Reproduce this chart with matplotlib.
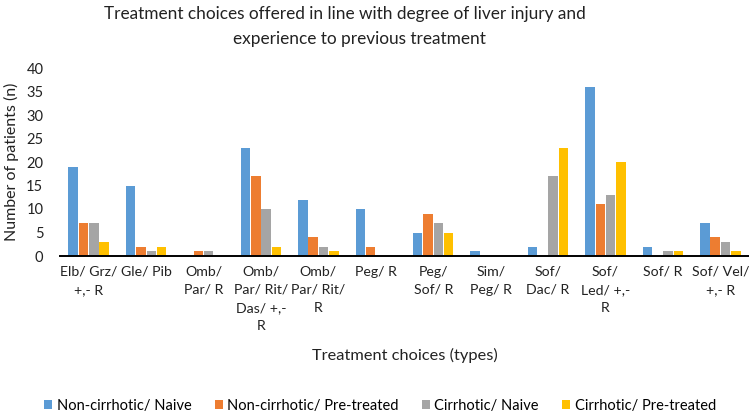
import matplotlib
matplotlib.use("Agg")
import matplotlib.pyplot as plt
import numpy as np

plt.rcParams['font.family'] = ['Lato', 'DejaVu Sans']

categories = ["Elb/ Grz/\n+,- R", "Gle/ Pib", "Omb/\nPar/ R", "Omb/\nPar/ Rit/\nDas/ +,-\nR",
              "Omb/\nPar/ Rit/\nR", "Peg/ R", "Peg/\nSof/ R", "Sim/\nPeg/ R", "Sof/\nDac/ R",
              "Sof/\nLed/ +,-\nR", "Sof/ R", "Sof/ Vel/\n+,- R"]
series_names = ["Non-cirrhotic/ Naive", "Non-cirrhotic/ Pre-treated", "Cirrhotic/ Naive", "Cirrhotic/ Pre-treated"]
non_cirr_naive = [19, 15, 0, 23, 12, 10, 5, 1, 2, 36, 2, 7]
non_cirr_pre = [7, 2, 1, 17, 4, 2, 9, 0, 0, 11, 0, 4]
cirr_naive = [7, 1, 1, 10, 2, 0, 7, 0, 17, 13, 1, 3]
cirr_pre = [3, 2, 0, 2, 1, 0, 5, 0, 23, 20, 1, 1]
colors = ["#5B9BD5", "#ED7D31", "#A5A5A5", "#FFC000"]
yticks = [0, 5, 10, 15, 20, 25, 30, 35, 40]
title_lines = ["Treatment choices offered in line with degree of liver injury and",
               "experience to previous treatment"]

fig = plt.figure(figsize=(7.49, 4.16), dpi=100)
ax = fig.add_axes([60/749, 1-256/416, 1-60/749, (256-68)/416])

x = np.arange(len(categories))
w = 0.165
step = 0.18
for i, (vals, c, n) in enumerate(zip([non_cirr_naive, non_cirr_pre, cirr_naive, cirr_pre], colors, series_names)):
    ax.bar(x + (i - 1.5) * step, vals, width=w, color=c, label=n)

ax.set_xlim(-0.5, len(categories) - 0.5)
ax.set_ylim(0, 40)
ax.set_yticks(yticks)
ax.set_xticks(x)
ax.set_xticklabels(categories, fontsize=10.2, linespacing=1.6, va='top')
ax.tick_params(axis='y', length=0, labelsize=10.5, colors='#222222', pad=12)
ax.tick_params(axis='x', length=0, colors='#222222', pad=7)
for s in ['top', 'right', 'left']:
    ax.spines[s].set_visible(False)
ax.spines['bottom'].set_linewidth(1.4)
ax.spines['bottom'].set_color('black')

ax.set_ylabel("Number of patients (n)", fontsize=11.5, color='#222222', labelpad=5)
fig.text(405/749, 1-355/416, "Treatment choices (types)", ha='center', va='center', fontsize=11.8, color='#222222')
fig.text(345/749, 1-14/416, title_lines[0], ha='center', va='center', fontsize=12.4, color='#222222')
fig.text(359/749, 1-39/416, title_lines[1], ha='center', va='center', fontsize=12.4, color='#222222')

fig.legend(loc='center', bbox_to_anchor=(380/749, 1-406/416), ncol=4, frameon=False, fontsize=10.5,
           handlelength=0.55, handleheight=0.55, handletextpad=0.3, columnspacing=1.6)

fig.savefig("out.png", dpi=100)
